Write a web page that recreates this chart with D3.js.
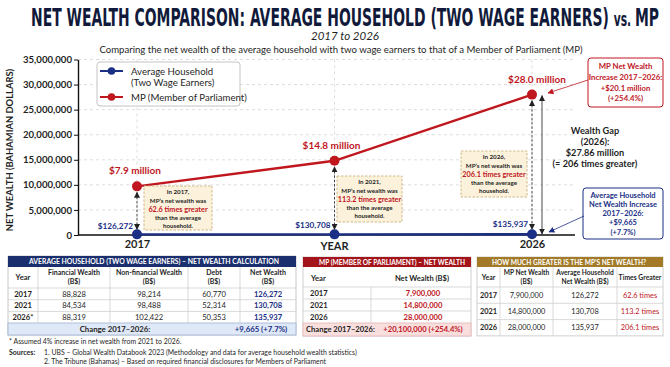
<!DOCTYPE html>
<html><head><meta charset="utf-8">
<script src="https://cdn.jsdelivr.net/npm/d3@7"></script>
<style>
html,body{margin:0;padding:0;background:#fff;}
svg text{font-family:Lato,"Open Sans",sans-serif;}
</style></head>
<body>
<svg id="c" width="670" height="367"></svg>
<script>
// ---------- DATA ----------
const years = ["2017", "2021", "2026"];
const householdNet = [126272, 130708, 135937];
const mpNet = [7900000, 14800000, 28000000];
// positions where the reference actually plots the MP points
const mpPlotted = [9700000, 14800000, 28000000];
const mpLabels = ["$7.9 million", "$14.8 million", "$28.0 million"];
const householdLabels = ["$126,272", "$130,708", "$135,937"];
const timesGreater = ["62.6", "113.2", "206.1"];
const yTicks = [0, 5000000, 10000000, 15000000, 20000000, 25000000, 30000000, 35000000];
const hhFinancial = [88828, 84534, 88319];
const hhNonFinancial = [98214, 98488, 102422];
const hhDebt = [60770, 52314, 50353];
const hhYearLabels = ["2017", "2021", "2026*"];

// ---------- SETUP ----------
const svg = d3.select("#c");
const NAVY = "#1b2f86", RED = "#c0171f", DARK = "#1f1f1f", TITLE = "#111a3a";
const fmt = d3.format(",");

const defs = svg.append("defs");
function marker(id, color, size) {
  defs.append("marker").attr("id", id).attr("viewBox", "0 0 10 10")
    .attr("refX", 9).attr("refY", 5).attr("markerWidth", size).attr("markerHeight", size)
    .attr("orient", "auto-start-reverse").attr("markerUnits", "userSpaceOnUse")
    .append("path").attr("d", "M0,0 L10,5 L0,10 z").attr("fill", color);
}
marker("arB", "#222", 6);
marker("arR", RED, 6);
marker("arN", NAVY, 6);

// ---------- TITLES ----------
const tg = svg.append("g");
const t = tg.append("text").attr("x", 0).attr("y", 0)
  .style("font-family", "'Liberation Sans Narrow','DejaVu Sans Condensed',sans-serif")
  .attr("font-weight", "bold").attr("fill", TITLE).attr("font-size", 26);
t.append("tspan").text("NET WEALTH COMPARISON: AVERAGE HOUSEHOLD (TWO WAGE EARNERS) ");
t.append("tspan").attr("font-size", 20).text("vs. ");
t.append("tspan").text("MP");
{
  const w = t.node().getComputedTextLength();
  const f = 26 * 628 / w;
  t.attr("font-size", f);
  t.select("tspan:nth-child(2)").attr("font-size", f * 20 / 26);
  const k = 18.5 / (0.73 * f);
  tg.attr("transform", `translate(31,26) scale(1,${k})`);
}

svg.append("text").attr("x", 345).attr("y", 39.5).attr("text-anchor", "middle")
  .attr("font-size", 11.5).attr("font-style", "italic").attr("fill", DARK).text("2017 to 2026");
svg.append("text").attr("x", 341).attr("y", 52.5).attr("text-anchor", "middle")
  .attr("font-size", 9.6).attr("fill", DARK)
  .text("Comparing the net wealth of the average household with two wage earners to that of a Member of Parliament (MP)");

// ---------- SCALES ----------
const x = d3.scalePoint().domain(years).range([137, 532]);
const y = d3.scaleLinear().domain([0, 35000000]).range([235, 59.5]);
const xL = 78, xR = 575;

// gridlines
svg.append("g").selectAll("line").data(yTicks.slice(1)).join("line")
  .attr("x1", xL).attr("x2", xR).attr("y1", d => y(d)).attr("y2", d => y(d))
  .attr("stroke", "#d6d6d6").attr("stroke-dasharray", "3,3").attr("stroke-width", 0.8);
svg.append("g").selectAll("line").data(years).join("line")
  .attr("x1", d => x(d)).attr("x2", d => x(d)).attr("y1", y(35000000)).attr("y2", y(0))
  .attr("stroke", "#d6d6d6").attr("stroke-dasharray", "3,3").attr("stroke-width", 0.8);

// y axis
const ya = svg.append("g").attr("transform", `translate(${xL},0)`)
  .call(d3.axisLeft(y).tickValues(yTicks).tickFormat(fmt).tickSize(4).tickSizeOuter(0));
ya.select(".domain").attr("stroke", "#111").attr("stroke-width", 1.4);
ya.selectAll(".tick line").attr("stroke", "#111");
ya.selectAll(".tick text").attr("font-size", 9.6).attr("font-weight", "bold").attr("fill", DARK)
  .style("font-family", "Lato,sans-serif").attr("x", -6);

svg.append("text").attr("transform", "translate(13,150) rotate(-90)").attr("text-anchor", "middle")
  .attr("font-size", 9.4).attr("font-weight", "bold").attr("fill", DARK)
  .text("NET WEALTH (BAHAMIAN DOLLARS)");

// x axis
svg.append("line").attr("x1", xL).attr("x2", xR).attr("y1", y(0)).attr("y2", y(0))
  .attr("stroke", "#111").attr("stroke-width", 1.4);
const xa = svg.append("g").attr("transform", `translate(0,${y(0)})`)
  .call(d3.axisBottom(x).tickValues([years[0], years[2]]).tickSize(0));
xa.select(".domain").remove();
xa.selectAll(".tick text").attr("font-size", 11).attr("font-weight", "bold").attr("fill", DARK)
  .style("font-family", "Lato,sans-serif").attr("dy", "0.95em");
svg.append("text").attr("x", x("2021")).attr("y", 250).attr("text-anchor", "middle")
  .attr("font-size", 11).attr("font-weight", "bold").attr("fill", DARK).text("YEAR");

// ---------- VERTICAL ARROWS ----------
years.forEach((yr, i) => {
  svg.append("line").attr("x1", x(yr)).attr("x2", x(yr))
    .attr("y1", y(mpPlotted[i]) + 6).attr("y2", y(householdNet[i]) - 5)
    .attr("stroke", "#333").attr("stroke-width", 0.9).attr("stroke-dasharray", "2.5,1.8")
    .attr("marker-start", "url(#arB)").attr("marker-end", "url(#arB)");
});
svg.append("line").attr("x1", x("2026") + 10).attr("x2", x("2026") + 10)
  .attr("y1", y(mpPlotted[2]) + 1).attr("y2", y(0) - 1)
  .attr("stroke", "#333").attr("stroke-width", 0.9)
  .attr("marker-start", "url(#arB)").attr("marker-end", "url(#arB)");

// ---------- LINES ----------
const line = d3.line().x((d, i) => x(years[i])).y(d => y(d));
svg.append("path").attr("d", line(householdNet)).attr("fill", "none").attr("stroke", NAVY).attr("stroke-width", 2.4);
svg.append("path").attr("d", line(mpPlotted)).attr("fill", "none").attr("stroke", RED).attr("stroke-width", 2.4);
svg.append("g").selectAll("circle").data(householdNet).join("circle")
  .attr("cx", (d, i) => x(years[i])).attr("cy", d => y(d)).attr("r", 5).attr("fill", NAVY);
svg.append("g").selectAll("circle").data(mpPlotted).join("circle")
  .attr("cx", (d, i) => x(years[i])).attr("cy", d => y(d)).attr("r", 5).attr("fill", RED);

const mpDx = [-2, -3, 5];
svg.append("g").selectAll("text").data(mpPlotted).join("text")
  .attr("x", (d, i) => x(years[i]) + mpDx[i]).attr("y", d => y(d) - 12)
  .attr("text-anchor", "middle").attr("font-size", 10).attr("font-weight", "bold").attr("fill", RED)
  .text((d, i) => mpLabels[i]);
svg.append("g").selectAll("text").data(householdNet).join("text")
  .attr("x", (d, i) => x(years[i]) - 4).attr("y", (d, i) => y(d) - 5 - i)
  .attr("text-anchor", "end").attr("font-size", 8.2).attr("font-weight", "bold").attr("fill", NAVY)
  .text((d, i) => householdLabels[i]);

// ---------- ANNOTATION BOXES ----------
const annoBox = [[144, 186, 68, 44], [337, 176, 65, 46], [461, 151, 66, 46]];
years.forEach((yr, i) => {
  const [bx, by, bw, bh] = annoBox[i];
  svg.append("rect").attr("x", bx).attr("y", by).attr("width", bw).attr("height", bh)
    .attr("fill", "#fcf2dc").attr("stroke", "#c9b27c").attr("stroke-dasharray", "2.5,1.5").attr("stroke-width", 0.9);
  const cx = bx + bw / 2;
  const lines = [[`In ${yr},`, DARK, "bold", 6.2], ["MP’s net wealth was", DARK, "bold", 6.2],
    [`${timesGreater[i]} times greater`, RED, "bold", 7.3], ["than the average", DARK, "bold", 6.2], ["household.", DARK, "bold", 6.2]];
  lines.forEach((l, j) => {
    svg.append("text").attr("x", cx).attr("y", by + 8 + j * 8.6 + (j === 2 ? 0.6 : 0)).attr("text-anchor", "middle")
      .attr("font-size", l[3]).attr("font-weight", l[2]).attr("fill", l[1]).text(l[0]);
  });
});

// ---------- LEGEND ----------
const lg = svg.append("g");
lg.append("rect").attr("x", 97).attr("y", 62).attr("width", 143).attr("height", 44).attr("rx", 3)
  .attr("fill", "#fff").attr("stroke", "#bdbdbd").attr("stroke-width", 0.9);
[[NAVY, 71, ["Average Household", "(Two Wage Earners)"]], [RED, 97, ["MP (Member of Parliament)"]]].forEach(e => {
  lg.append("line").attr("x1", 100).attr("x2", 123).attr("y1", e[1]).attr("y2", e[1]).attr("stroke", e[0]).attr("stroke-width", 2);
  lg.append("circle").attr("cx", 111.5).attr("cy", e[1]).attr("r", 3.8).attr("fill", e[0]);
  e[2].forEach((s, k) => lg.append("text").attr("x", 131).attr("y", e[1] + 3.5 + k * 11)
    .attr("font-size", 9.6).attr("fill", DARK).text(s));
});

// ---------- RIGHT ANNOTATIONS ----------
svg.append("rect").attr("x", 588).attr("y", 58).attr("width", 75).attr("height", 49).attr("rx", 3)
  .attr("fill", "#fff").attr("stroke", RED).attr("stroke-width", 1);
["MP Net Wealth", "Increase 2017–2026:", `+$${((mpNet[2] - mpNet[0]) / 1e6).toFixed(1)} million`,
  `(+${((mpNet[2] - mpNet[0]) / mpNet[0] * 100).toFixed(1)}%)`].forEach((s, k) => {
  svg.append("text").attr("x", 625.5).attr("y", 69 + k * 10.8).attr("text-anchor", "middle")
    .attr("font-size", 7.8).attr("font-weight", "bold").attr("fill", RED).text(s);
});
svg.append("line").attr("x1", 588).attr("y1", 80).attr("x2", 548).attr("y2", 93)
  .attr("stroke", RED).attr("stroke-width", 0.8).attr("marker-end", "url(#arR)");

["Wealth Gap", "(2026):", "$27.86 million", "(≈ 206 times greater)"].forEach((s, k) => {
  svg.append("text").attr("x", 595).attr("y", 133.5 + k * 11.2).attr("text-anchor", "middle")
    .attr("font-size", 9.2).attr("font-weight", "bold").attr("fill", DARK).text(s);
});

svg.append("rect").attr("x", 583).attr("y", 188).attr("width", 80).attr("height", 51).attr("rx", 3)
  .attr("fill", "#fff").attr("stroke", NAVY).attr("stroke-width", 1);
["Average Household", "Net Wealth Increase", "2017–2026:", `+$${fmt(householdNet[2] - householdNet[0])}`,
  `(+${((householdNet[2] - householdNet[0]) / householdNet[0] * 100).toFixed(1)}%)`].forEach((s, k) => {
  svg.append("text").attr("x", 623).attr("y", 197.5 + k * 9.3).attr("text-anchor", "middle")
    .attr("font-size", 7.5).attr("font-weight", "bold").attr("fill", NAVY).text(s);
});
svg.append("line").attr("x1", 584).attr("y1", 216).attr("x2", 549).attr("y2", 232)
  .attr("stroke", NAVY).attr("stroke-width", 0.8).attr("marker-end", "url(#arN)");

// ---------- TABLES ----------
function txt(g, xx, yy, s, o = {}) {
  const e = g.append("text").attr("x", xx).attr("y", yy).attr("text-anchor", o.anchor || "middle")
    .attr("font-size", o.size || 7.6).attr("font-weight", o.weight || "normal").attr("fill", o.fill || DARK).text(s);
  if (o.len) e.attr("textLength", o.len).attr("lengthAdjust", "spacingAndGlyphs");
  return e;
}
function hline(g, x1, x2, yy, c) { g.append("line").attr("x1", x1).attr("x2", x2).attr("y1", yy).attr("y2", yy).attr("stroke", c || "#cfcfcf").attr("stroke-width", 0.8); }
function vline(g, xx, y1, y2, c) { g.append("line").attr("x1", xx).attr("x2", xx).attr("y1", y1).attr("y2", y2).attr("stroke", c || "#cfcfcf").attr("stroke-width", 0.8); }

// Table 1 — household
{
  const g = svg.append("g");
  const cols = [8, 38, 110, 188, 240, 296];
  const top = 256, hdrB = 267, colB = 288, rowH = 11.7, chgT = 323, chgB = 335;
  g.append("rect").attr("x", cols[0]).attr("y", top).attr("width", cols[5] - cols[0]).attr("height", chgB - top)
    .attr("fill", "#fff").attr("stroke", "#b9b9b9").attr("stroke-width", 0.8);
  g.append("rect").attr("x", cols[0]).attr("y", top).attr("width", cols[5] - cols[0]).attr("height", hdrB - top).attr("fill", "#1b2f6e");
  txt(g, 154, top + 8.3, "AVERAGE HOUSEHOLD (TWO WAGE EARNERS) – NET WEALTH CALCULATION", { size: 8, weight: "bold", fill: "#fff", len: 250 });
  for (let c = 1; c < 5; c++) vline(g, cols[c], hdrB, chgT);
  hline(g, cols[0], cols[5], colB);
  for (let r = 1; r < 3; r++) hline(g, cols[0], cols[5], colB + r * rowH);
  const mids = cols.slice(0, 5).map((c, i) => (c + cols[i + 1]) / 2);
  txt(g, mids[0], 280, "Year", { size: 7.6, weight: "bold" });
  [["Financial Wealth", "(B$)"], ["Non-financial Wealth", "(B$)"], ["Debt", "(B$)"], ["Net Wealth", "(B$)"]].forEach((h, i) => {
    txt(g, mids[i + 1], 275, h[0], { size: 7, weight: "bold" });
    txt(g, mids[i + 1], 284, h[1], { size: 7, weight: "bold" });
  });
  years.forEach((yr, r) => {
    const yy = colB + r * rowH + 8.5;
    txt(g, mids[0], yy, hhYearLabels[r], { size: 7.6, weight: "bold" });
    txt(g, mids[1], yy, fmt(hhFinancial[r]), { size: 7.6 });
    txt(g, mids[2], yy, fmt(hhNonFinancial[r]), { size: 7.6 });
    txt(g, mids[3], yy, fmt(hhDebt[r]), { size: 7.6 });
    txt(g, mids[4], yy, fmt(householdNet[r]), { size: 7.6, weight: "bold", fill: NAVY });
  });
  g.append("rect").attr("x", cols[0]).attr("y", chgT).attr("width", cols[5] - cols[0]).attr("height", chgB - chgT)
    .attr("fill", "#dfe8f6").attr("stroke", "#9fb3d6").attr("stroke-width", 0.8);
  txt(g, 115, chgT + 8.8, "Change 2017–2026:", { size: 7.8, weight: "bold" });
  txt(g, 261, chgT + 8.8, `+${fmt(householdNet[2] - householdNet[0])} (+${((householdNet[2] - householdNet[0]) / householdNet[0] * 100).toFixed(1)}%)`, { size: 7.8, weight: "bold", fill: NAVY });
  txt(g, 9, 344, "* Assumed 4% increase in net wealth from 2021 to 2026.", { size: 6.9, anchor: "start" });
  txt(g, 9, 355, "Sources:", { size: 7, weight: "bold", anchor: "start" });
  txt(g, 44, 355, "1. UBS – Global Wealth Databook 2023 (Methodology and data for average household wealth statistics)", { size: 6.9, anchor: "start" });
  txt(g, 44, 364, "2. The Tribune (Bahamas) – Based on required financial disclosures for Members of Parliament", { size: 6.9, anchor: "start" });
}

// Table 2 — MP
{
  const g = svg.append("g");
  const x0 = 303, x1 = 471, xm = 371;
  const top = 257, hdrB = 267, colB = 287, rowH = 12, chgT = 323, chgB = 336;
  g.append("rect").attr("x", x0).attr("y", top).attr("width", x1 - x0).attr("height", chgB - top)
    .attr("fill", "#fff").attr("stroke", "#c4c4c4").attr("stroke-width", 0.8);
  g.append("rect").attr("x", x0).attr("y", top).attr("width", x1 - x0).attr("height", hdrB - top).attr("fill", "#a3141b");
  txt(g, 392, top + 8, "MP (MEMBER OF PARLIAMENT) – NET WEALTH", { size: 8, weight: "bold", fill: "#fff", len: 146 });
  vline(g, xm, colB, chgT);
  for (let r = 0; r < 3; r++) hline(g, x0, x1, colB + r * rowH);
  txt(g, 311, 281, "Year", { size: 7.6, weight: "bold", anchor: "start" });
  txt(g, 422, 281, "Net Wealth (B$)", { size: 7.6, weight: "bold" });
  years.forEach((yr, r) => {
    const yy = colB + r * rowH + 9;
    txt(g, 310, yy, yr, { size: 7.6, weight: "bold", anchor: "start" });
    txt(g, 423, yy, fmt(mpNet[r]), { size: 7.6, weight: "bold", fill: RED });
  });
  g.append("rect").attr("x", x0).attr("y", chgT).attr("width", x1 - x0).attr("height", chgB - chgT)
    .attr("fill", "#f9dede").attr("stroke", "#e6b3b3").attr("stroke-width", 0.8);
  txt(g, 306, chgT + 9, "Change 2017–2026:", { size: 7.6, weight: "bold", anchor: "start" });
  txt(g, 423, chgT + 9, `+${fmt(mpNet[2] - mpNet[0])} (+${((mpNet[2] - mpNet[0]) / mpNet[0] * 100).toFixed(1)}%)`, { size: 7.6, weight: "bold", fill: RED });
}

// Table 3 — times greater
{
  const g = svg.append("g");
  const cols = [477, 500, 553, 617, 663];
  const top = 257, hdrB = 267, colB = 287, rowH = 16.3;
  const bot = colB + 3 * rowH;
  g.append("rect").attr("x", cols[0]).attr("y", top).attr("width", cols[4] - cols[0]).attr("height", bot - top)
    .attr("fill", "#fff").attr("stroke", "#c4c4c4").attr("stroke-width", 0.8);
  g.append("rect").attr("x", cols[0]).attr("y", top).attr("width", cols[4] - cols[0]).attr("height", hdrB - top).attr("fill", "#a27a28");
  txt(g, 569, top + 8, "HOW MUCH GREATER IS THE MP’S NET WEALTH?", { size: 7.6, weight: "bold", fill: "#fff", len: 154 });
  for (let c = 1; c < 4; c++) vline(g, cols[c], hdrB, bot);
  for (let r = 0; r < 3; r++) hline(g, cols[0], cols[4], colB + r * rowH);
  const mids = cols.slice(0, 4).map((c, i) => (c + cols[i + 1]) / 2);
  txt(g, mids[0], 280, "Year", { size: 7, weight: "bold" });
  txt(g, mids[1], 275, "MP Net Wealth", { size: 6.6, weight: "bold" });
  txt(g, mids[1], 284, "(B$)", { size: 6.6, weight: "bold" });
  txt(g, mids[2], 275, "Average Household", { size: 6.6, weight: "bold" });
  txt(g, mids[2], 284, "Net Wealth (B$)", { size: 6.6, weight: "bold" });
  txt(g, mids[3], 280, "Times Greater", { size: 6.8, weight: "bold" });
  years.forEach((yr, r) => {
    const yy = colB + r * rowH + 10.8;
    txt(g, mids[0], yy, yr, { size: 7.4, weight: "bold" });
    txt(g, mids[1], yy, fmt(mpNet[r]), { size: 7.4 });
    txt(g, mids[2], yy, fmt(householdNet[r]), { size: 7.4 });
    txt(g, mids[3], yy, `${timesGreater[r]} times`, { size: 7.4, fill: RED });
  });
}
</script>
</body></html>
